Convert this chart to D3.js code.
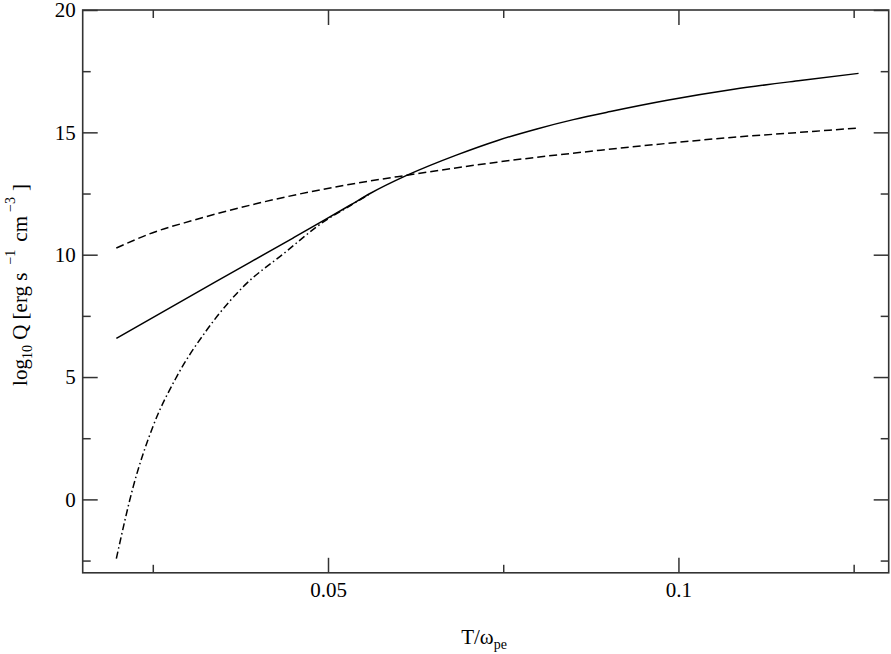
<!DOCTYPE html>
<html>
<head>
<meta charset="utf-8">
<script src="https://cdn.jsdelivr.net/npm/d3@7"></script>
<style>
html,body{margin:0;padding:0;background:#fff;}
svg text{font-family:"Liberation Serif","Times New Roman",serif;fill:#000;}
</style>
</head>
<body>
<svg id="chart" width="891" height="654"></svg>
<script>
// ---- data ----
const xMajorTicks = [0.05, 0.1];
const xMinorTicks = [0.025, 0.075, 0.125];
const yMajorTicks = [0, 5, 10, 15, 20];
const yMinorTicks = [-2.5, 2.5, 7.5, 12.5, 17.5];

const solidX = [0.0198, 0.0340, 0.0450, 0.0494, 0.0532, 0.0560, 0.0613, 0.0684, 0.0741, 0.0798, 0.0850, 0.0903, 0.0984, 0.1079, 0.1174, 0.1257];
const solidY = [6.58, 8.90, 10.68, 11.40, 12.03, 12.50, 13.25, 14.08, 14.66, 15.14, 15.52, 15.85, 16.31, 16.76, 17.12, 17.41];

const dashedX = [0.0198, 0.0250, 0.0307, 0.0400, 0.0530, 0.0613, 0.0741, 0.0889, 0.0984, 0.1079, 0.1174, 0.1257];
const dashedY = [10.27, 10.90, 11.40, 12.10, 12.87, 13.25, 13.78, 14.27, 14.55, 14.80, 15.00, 15.18];

const dashDotX = [0.0198, 0.0222, 0.0250, 0.0284, 0.0327, 0.0379, 0.0437, 0.0494, 0.0532, 0.0560];
const dashDotY = [-2.42, 0.51, 2.96, 5.01, 6.92, 8.69, 10.05, 11.35, 12.01, 12.49];

// ---- layout ----
const svg = d3.select("#chart");
const L = 82.7, R = 888.7, T = 10, B = 572.8;
const x = d3.scaleLinear().domain([0.015, 0.13]).range([L, R]);
const y = d3.scaleLinear().domain([-3, 20]).range([B, T]);
const axisColor = "#333";
const fs = 21;

function styleAxis(g){
  g.select(".domain").remove();
  g.selectAll(".tick line").attr("stroke", axisColor).attr("stroke-width", 1.5);
  g.selectAll(".tick text").attr("font-size", fs).attr("font-family", "Liberation Serif, Times New Roman, serif").attr("fill", "#000");
}

// bottom
svg.append("g").attr("transform", `translate(0,${B})`)
  .call(d3.axisBottom(x).tickValues(xMajorTicks).tickSize(-15).tickPadding(9).tickFormat(d3.format("~g")))
  .call(styleAxis);
svg.append("g").attr("transform", `translate(0,${B})`)
  .call(d3.axisBottom(x).tickValues(xMinorTicks).tickSize(-8).tickFormat(""))
  .call(styleAxis);
// top
svg.append("g").attr("transform", `translate(0,${T})`)
  .call(d3.axisTop(x).tickValues(xMajorTicks).tickSize(-15).tickFormat(""))
  .call(styleAxis);
svg.append("g").attr("transform", `translate(0,${T})`)
  .call(d3.axisTop(x).tickValues(xMinorTicks).tickSize(-8).tickFormat(""))
  .call(styleAxis);
// left
svg.append("g").attr("transform", `translate(${L},0)`)
  .call(d3.axisLeft(y).tickValues(yMajorTicks).tickSize(-15).tickPadding(7).tickFormat(d3.format("d")))
  .call(styleAxis);
svg.append("g").attr("transform", `translate(${L},0)`)
  .call(d3.axisLeft(y).tickValues(yMinorTicks).tickSize(-8).tickFormat(""))
  .call(styleAxis);
// right
svg.append("g").attr("transform", `translate(${R},0)`)
  .call(d3.axisRight(y).tickValues(yMajorTicks).tickSize(-15).tickFormat(""))
  .call(styleAxis);
svg.append("g").attr("transform", `translate(${R},0)`)
  .call(d3.axisRight(y).tickValues(yMinorTicks).tickSize(-8).tickFormat(""))
  .call(styleAxis);

// frame
svg.append("rect").attr("x", L).attr("y", T).attr("width", R - L).attr("height", B - T)
  .attr("fill", "none").attr("stroke", axisColor).attr("stroke-width", 1.6);

// curves
const line = d3.line().x(d => x(d[0])).y(d => y(d[1])).curve(d3.curveMonotoneX);
function addCurve(xs, ys, dash){
  svg.append("path").datum(xs.map((v, i) => [v, ys[i]]))
    .attr("d", line).attr("fill", "none").attr("stroke", "#000")
    .attr("stroke-width", 1.5).attr("stroke-dasharray", dash);
}
addCurve(dashDotX, dashDotY, "7,3,1.5,3");
addCurve(dashedX, dashedY, "8,4");
addCurve(solidX, solidY, null);

// x label
const xl = svg.append("text").attr("x", 484).attr("y", 644).attr("text-anchor", "middle").attr("font-size", fs);
xl.append("tspan").text("T/ω");
xl.append("tspan").attr("font-size", 14).attr("dy", 5).text("pe");

// y label
const yl = svg.append("text").attr("transform", "translate(27,285) rotate(-90)")
  .attr("text-anchor", "middle").attr("font-size", fs).attr("xml:space", "preserve");
yl.append("tspan").text("log");
yl.append("tspan").attr("font-size", 14).attr("dy", 5).text("10");
yl.append("tspan").attr("dy", -5).text(" Q [erg s");
yl.append("tspan").attr("font-size", 14).attr("dy", -12).attr("dx", 8).text("−1");
yl.append("tspan").attr("dy", 12).attr("dx", 8).text("cm");
yl.append("tspan").attr("font-size", 14).attr("dy", -12).attr("dx", 4).text("−3");
yl.append("tspan").attr("dy", 12).attr("dx", 6).text("]");
</script>
</body>
</html>
